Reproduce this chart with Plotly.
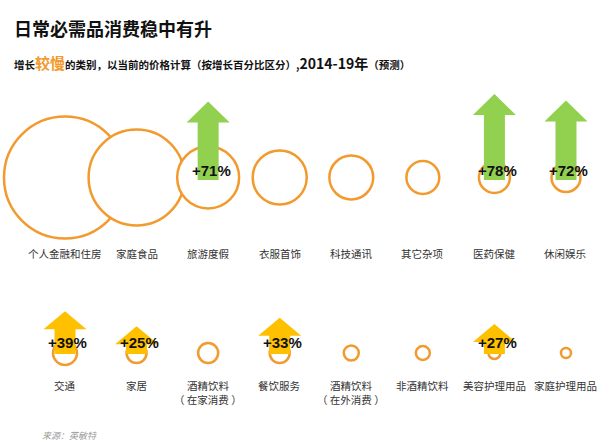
import plotly.graph_objects as go

# ---------------- data ----------------
categories_row1 = ["个人金融和住房", "家庭食品", "旅游度假", "衣服首饰",
                   "科技通讯", "其它杂项", "医药保健", "休闲娱乐"]
categories_row2 = ["交通", "家居", "酒精饮料|（ 在家消费 ）", "餐饮服务",
                   "酒精饮料|（ 在外消费 ）", "非酒精饮料", "美容护理用品", "家庭护理用品"]
# relative spending size (circle area)
spending_row1 = [3720, 2300, 960, 730, 480, 270, 240, 210]
spending_row2 = [144, 100, 100, 100, 56, 49, 36, 25]
# growth 2014-19 (%), None = not highlighted
growth_row1 = [None, None, 71, None, None, None, 78, 72]
growth_row2 = [39, 25, None, 33, None, None, 27, None]

title = "日常必需品消费稳中有升"
source = "来源：英敏特"

# ---------------- styling ----------------
W, H = 600, 443
ORANGE = "#F29A2E"
GREEN = "#92D050"
YELLOW = "#FFC000"
CJK = "Noto Sans CJK SC"
SLOT_PX = 71.57          # horizontal px per category slot
X0_PX = 65               # px of first slot
PX_PER_PCT = 1.07        # vertical px per growth %

x_range = [-X0_PX / SLOT_PX, (W - X0_PX) / SLOT_PX]


def axis_for(center_px, top_px, bottom_px):
    dom = [1 - bottom_px / H, 1 - top_px / H]
    rng = [-(bottom_px - center_px) / PX_PER_PCT, (center_px - top_px) / PX_PER_PCT]
    return dom, rng


dom1, rng1 = axis_for(177.5, 85, 265)
dom2, rng2 = axis_for(353, 290, 415)

fig = go.Figure()


def add_row(cats, spend, growth, yref, arrow_color, head_px, base, label_shift, pct_offset):
    idx = list(range(len(cats)))
    fig.add_trace(go.Scatter(
        x=idx, y=[0] * len(idx), mode="markers", yaxis=yref, hoverinfo="skip",
        marker=dict(size=spend, sizemode="area", sizeref=0.5, color="white",
                    opacity=1, line=dict(color=ORANGE, width=2.5)),
        showlegend=False))
    half_shaft = 10.5 / SLOT_PX
    half_head = 21.5 / SLOT_PX
    head = head_px / PX_PER_PCT
    for i, g in enumerate(growth):
        if g is None:
            continue
        xs = [i - half_shaft, i - half_shaft, i - half_head, i, i + half_head,
              i + half_shaft, i + half_shaft, i - half_shaft]
        ys = [base, g - head, g - head, g, g - head, g - head, base, base]
        fig.add_trace(go.Scatter(x=xs, y=ys, mode="lines", fill="toself",
                                 fillcolor=arrow_color, line=dict(width=0),
                                 yaxis=yref, hoverinfo="skip", showlegend=False))
        fig.add_annotation(x=i + 0.04, y=pct_offset, xref="x", yref=yref,
                           text=f"<b>+{g}%</b>", showarrow=False,
                           font=dict(family="Liberation Sans", size=15, color="#111"))
    for i, c in enumerate(cats):
        for j, line in enumerate(c.split("|")):
            fig.add_annotation(x=i, y=0, xref="x", yref=yref, text=line, showarrow=False,
                               yanchor="middle", yshift=label_shift - 14.5 * j,
                               font=dict(family=CJK, size=10.5, color="#333"))


add_row(categories_row1, spending_row1, growth_row1, "y", GREEN, 21, -2.3, -75.5, 7)
add_row(categories_row2, spending_row2, growth_row2, "y2", YELLOW, 18, -1, -32, 10)

# titles (positions given in px from top-left, converted to paper)
def px_note(xp, yp, text, font):
    fig.add_annotation(x=xp / W, y=1 - yp / H, xref="paper", yref="paper", text=text,
                       showarrow=False, xanchor="left", yanchor="middle", font=font)


px_note(12, 28, f"<b>{title}</b>", dict(family=CJK, size=18, color="#111"))
sub = ("<b>增长</b><span style='color:#F29A2E;font-size:15px'><b>较慢</b></span>"
       "<b>的类别，以当前的价格计算（按增长百分比区分）,</b>"
       "<span style='font-size:14px'><b>2014-19年</b></span><b>（预测）</b>")
px_note(12, 62, sub, dict(family=CJK, size=10.5, color="#111"))
px_note(40, 435, f"<i>{source}</i>", dict(family=CJK, size=9, color="#999"))

fig.update_layout(
    width=W, height=H, margin=dict(l=0, r=0, t=0, b=0),
    paper_bgcolor="white", plot_bgcolor="white",
    xaxis=dict(range=x_range, visible=False, fixedrange=True),
    yaxis=dict(domain=dom1, range=rng1, visible=False, fixedrange=True),
    yaxis2=dict(domain=dom2, range=rng2, visible=False, fixedrange=True, anchor="x"),
)

fig.write_html("out.html")
